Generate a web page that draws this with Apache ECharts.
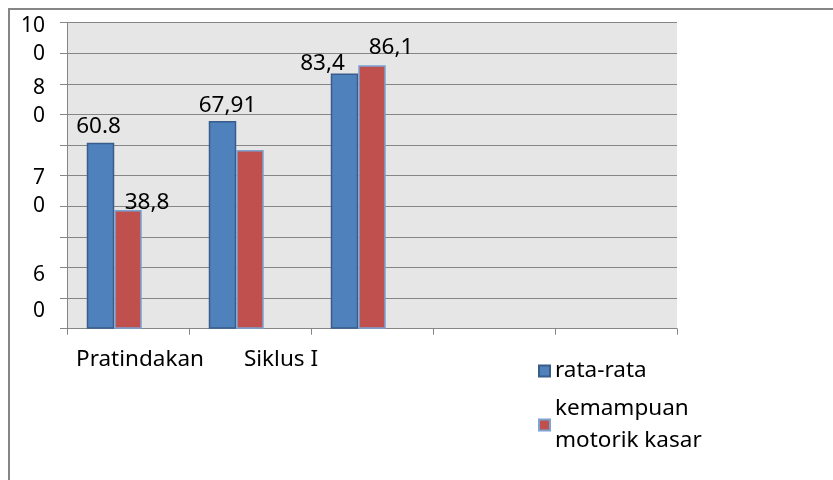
<!DOCTYPE html>
<html>
<head>
<meta charset="utf-8">
<script src="https://cdn.jsdelivr.net/npm/echarts@6/dist/echarts.min.js"></script>
<style>
  html, body { margin: 0; padding: 0; background: #fff; }
  #chart { width: 833px; height: 480px; }
</style>
</head>
<body>
<div id="chart"></div>
<script>
// data
const categories = ['Pratindakan', 'Siklus I', '', '', ''];
const seriesNames = ['rata-rata', 'kemampuan motorik kasar'];
const blueValues = [60.8, 67.91, 83.4, null, null];
const redValues = [38.8, 58.4, 86.1, null, null];
const blueLabels = ['60.8', '67,91', '83,4', '', ''];
const redLabels = ['38,8', '', '86,1', '', ''];
// y labels as they appear (wrapped and slid down) in the reference
const yLabelValues = [94.3, 74, 44.7, 11.7];
const yLabelTexts = ['10\n0', '8\n0', '7\n0', '6\n0'];

const FONT = 'Noto Sans';
const grey = '#868686';

// label nudges, the source chart has them dragged around a bit
const blueOffsets = [[-2, 0], [5, 1], [-22, 7], [0, 0], [0, 0]];
const redOffsets = [[19, 9], [0, 0], [19, -1], [0, 0], [0, 0]];
const catPad = [24, 62, 0, 0, 0];

const buildData = (values, labels, offsets) => {
    return values.map((v, i) => ({
        value: v,
        label: {
            show: labels[i] !== '',
            formatter: labels[i],
            offset: offsets[i]
        }
    }));
};

const chart = echarts.init(document.getElementById('chart'));

const labelStyle = {
    position: 'top',
    distance: 5,
    color: '#000',
    fontFamily: FONT,
    fontSize: 22.5
};

const option = {
    animation: false,
    graphic: [{
        type: 'rect',
        shape: { x: 9, y: 9, width: 1000, height: 600 },
        style: { fill: 'none', stroke: grey, lineWidth: 2 },
        z: -1
    }],
    grid: {
        left: 67,
        right: 156,
        top: 22.7,
        bottom: 151.3,
        outerBoundsMode: 'none',
        containLabel: false,
        show: true,
        backgroundColor: '#e6e6e6',
        borderWidth: 0
    },
    legend: {
        data: seriesNames,
        orient: 'vertical',
        left: 538,
        top: 355,
        height: 125,
        itemWidth: 11,
        itemHeight: 11,
        itemGap: 6,
        padding: 0,
        icon: 'rect',
        formatter: function (name) {
            return name.replace('kemampuan ', 'kemampuan\n');
        },
        textStyle: {
            color: '#000',
            fontFamily: FONT,
            fontSize: 22.5,
            lineHeight: 32
        }
    },
    xAxis: {
        type: 'category',
        data: categories,
        axisLine: { lineStyle: { color: grey, width: 1 } },
        axisTick: { show: true, length: 6, interval: 0, lineStyle: { color: grey } },
        axisLabel: {
            interval: 0,
            margin: 19,
            color: '#000',
            fontFamily: FONT,
            fontSize: 22.5,
            formatter: function (val, idx) {
                if (!val) return '';
                return '{c' + idx + '|' + val + '}';
            },
            rich: {
                c0: { padding: [0, 0, 0, catPad[0]], fontFamily: FONT, fontSize: 22.5, color: '#000' },
                c1: { padding: [0, 0, 0, catPad[1]], fontFamily: FONT, fontSize: 22.5, color: '#000' }
            }
        }
    },
    yAxis: {
        type: 'value',
        min: 0,
        max: 100,
        interval: 10,
        axisLine: { show: true, lineStyle: { color: grey, width: 1 } },
        axisTick: { show: true, length: 7, lineStyle: { color: grey } },
        splitLine: { lineStyle: { color: grey, width: 1 } },
        axisLabel: {
            customValues: yLabelValues,
            margin: 22,
            color: '#000',
            fontFamily: FONT,
            fontSize: 21,
            lineHeight: 28,
            formatter: function (v) {
                const i = yLabelValues.indexOf(v);
                if (i < 0) return '';
                // the bottom pair is spread a little wider in the source
                if (i === yLabelValues.length - 1) {
                    return yLabelTexts[i].split('\n').map(s => '{w|' + s + '}').join('\n');
                }
                return yLabelTexts[i];
            },
            rich: {
                w: { fontFamily: FONT, fontSize: 21, color: '#000', lineHeight: 36 }
            }
        }
    },
    series: [
        {
            name: seriesNames[0],
            type: 'bar',
            barWidth: 27.5,
            barGap: '0%',
            data: buildData(blueValues, blueLabels, blueOffsets),
            itemStyle: { color: '#4f81bd', borderColor: '#385d8a', borderWidth: 1.5 },
            label: labelStyle
        },
        {
            name: seriesNames[1],
            type: 'bar',
            barWidth: 27.5,
            barGap: '0%',
            data: buildData(redValues, redLabels, redOffsets),
            itemStyle: { color: '#c0504d', borderColor: '#7ba3d4', borderWidth: 1.5 },
            label: labelStyle
        },
        {
            // empty third slot, keeps the pair left of the category centre
            name: 'kosong',
            type: 'bar',
            barWidth: 27.5,
            barGap: '0%',
            data: [null, null, null, null, null]
        }
    ]
};

chart.setOption(option);
</script>
</body>
</html>
